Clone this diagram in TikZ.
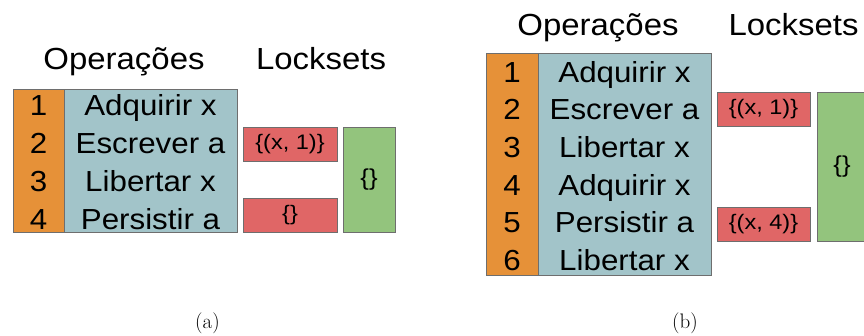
\documentclass[tikz,border=0pt]{standalone}
\usepackage{fontspec}
\newfontfamily\arialw[FakeStretch=1.08]{Liberation Sans}
\newfontfamily\arials[FakeStretch=1.12]{Liberation Sans}
\definecolor{cOrange}{HTML}{E69138}
\definecolor{cBlue}{HTML}{A2C4C9}
\definecolor{cRed}{HTML}{E06666}
\definecolor{cGreen}{HTML}{93C47D}
\definecolor{cEdge}{HTML}{6E6E6E}
\tikzset{
  boxbase/.style={rectangle, draw=cEdge, line width=0.8pt, inner sep=0pt},
  obox/.style={boxbase, fill=cOrange},
  bbox/.style={boxbase, fill=cBlue},
  rbox/.style={boxbase, fill=cRed, font=\arials\fontsize{21}{23}\selectfont},
  gbox/.style={boxbase, fill=cGreen, font=\arials\fontsize{23}{25}\selectfont},
  rowtxt/.style={anchor=base, inner sep=0pt, font=\arialw\fontsize{29}{33}\selectfont},
  titletxt/.style={anchor=base, inner sep=0pt, font=\arialw\fontsize{30.5}{34}\selectfont},
  captxt/.style={anchor=base, inner sep=0pt, font=\fontsize{21}{24}\selectfont},
}
\begin{document}
\begin{tikzpicture}[x=1pt,y=-1pt]
\useasboundingbox (0,0) rectangle (864,335);
\begin{scope}
\clip (0,0) rectangle (864,335);
% ---------- (a) ----------
\node[titletxt] (tOpA) at (124,69) {Operações};
\node[titletxt] (tLkA) at (321,69) {Locksets};
\node[obox, minimum width=51pt, minimum height=143pt] (oA) at (38.5,160.5) {};
\node[bbox, minimum width=173pt, minimum height=143pt] (bA) at (150.5,160.5) {};
\node[rbox, minimum width=94pt, minimum height=34pt] (rA1) at (290,144) {\{(x, 1)\}};
\node[rbox, minimum width=94pt, minimum height=34pt] (rA2) at (290,215) {\{\}};
\node[gbox, minimum width=52pt, minimum height=105pt] (gA) at (369,179.5) {\{\}};
\node[rowtxt] (nA1) at (38.5,115) {1};
\node[rowtxt] (nA2) at (38.5,153) {2};
\node[rowtxt] (nA3) at (38.5,191) {3};
\node[rowtxt] (nA4) at (38.5,229) {4};
\node[rowtxt] (sA1) at (150.5,115) {Adquirir x};
\node[rowtxt] (sA2) at (150.5,153) {Escrever a};
\node[rowtxt] (sA3) at (150.5,191) {Libertar x};
\node[rowtxt] (sA4) at (150.5,229) {Persistir a};
\node[captxt] (capA) at (207.5,328) {(a)};
% ---------- (b) ----------
\node[titletxt] (tOpB) at (598,35) {Operações};
\node[titletxt] (tLkB) at (793.5,35) {Locksets};
\node[obox, minimum width=52pt, minimum height=222pt] (oB) at (512,164) {};
\node[bbox, minimum width=173pt, minimum height=222pt] (bB) at (624.5,164) {};
\node[rbox, minimum width=93pt, minimum height=34pt] (rB1) at (763.5,109) {\{(x, 1)\}};
\node[rbox, minimum width=93pt, minimum height=34pt] (rB2) at (763.5,224) {\{(x, 4)\}};
\node[gbox, minimum width=50pt, minimum height=149pt] (gB) at (842,166.5) {\{\}};
\node[rowtxt] (nB1) at (512,82) {1};
\node[rowtxt] (nB2) at (512,119) {2};
\node[rowtxt] (nB3) at (512,157) {3};
\node[rowtxt] (nB4) at (512,195) {4};
\node[rowtxt] (nB5) at (512,232) {5};
\node[rowtxt] (nB6) at (512,270) {6};
\node[rowtxt] (sB1) at (624.5,82) {Adquirir x};
\node[rowtxt] (sB2) at (624.5,119) {Escrever a};
\node[rowtxt] (sB3) at (624.5,157) {Libertar x};
\node[rowtxt] (sB4) at (624.5,195) {Adquirir x};
\node[rowtxt] (sB5) at (624.5,232) {Persistir a};
\node[rowtxt] (sB6) at (624.5,270) {Libertar x};
\node[captxt] (capB) at (685,328) {(b)};
\end{scope}
\end{tikzpicture}
\end{document}
